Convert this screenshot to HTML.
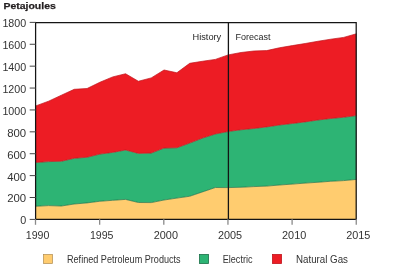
<!DOCTYPE html>
<html><head><meta charset="utf-8"><style>
html,body{margin:0;padding:0;background:#fff;width:400px;height:272px;overflow:hidden}
svg{display:block;will-change:transform}
.t{font-family:"Liberation Sans",sans-serif;font-size:10.2px;fill:#333333}
.t2{font-family:"Liberation Sans",sans-serif;font-size:9.9px;fill:#262626}
.b{font-family:"Liberation Sans",sans-serif;font-size:9.5px;font-weight:bold;fill:#231F20;stroke:#231F20;stroke-width:0.25px}
</style></head><body>
<svg width="400" height="272" viewBox="0 0 400 272">
<polygon points="35.75,105.90 48.58,101.20 61.41,95.20 74.24,89.30 87.07,88.50 99.90,82.25 112.73,76.90 125.56,73.75 138.39,81.25 151.22,77.90 164.05,70.00 176.88,72.75 189.71,63.30 202.54,61.25 215.37,59.40 228.20,54.90 241.03,52.50 253.86,51.00 266.69,50.60 279.52,47.75 292.35,45.60 305.18,43.50 318.01,41.25 330.84,39.20 343.67,37.40 356.50,33.75 356.50,115.60 343.67,117.25 330.84,118.50 318.01,120.00 305.18,121.90 292.35,123.50 279.52,125.00 266.69,126.90 253.86,128.50 241.03,129.75 228.20,131.50 215.37,134.00 202.54,138.10 189.71,143.10 176.88,147.75 164.05,148.10 151.22,153.10 138.39,153.40 125.56,150.00 112.73,152.40 99.90,154.10 87.07,157.25 74.24,158.30 61.41,161.25 48.58,161.60 35.75,162.50" fill="#ED1C24"/>
<polygon points="35.75,162.50 48.58,161.60 61.41,161.25 74.24,158.30 87.07,157.25 99.90,154.10 112.73,152.40 125.56,150.00 138.39,153.40 151.22,153.10 164.05,148.10 176.88,147.75 189.71,143.10 202.54,138.10 215.37,134.00 228.20,131.50 241.03,129.75 253.86,128.50 266.69,126.90 279.52,125.00 292.35,123.50 305.18,121.90 318.01,120.00 330.84,118.50 343.67,117.25 356.50,115.60 356.50,179.40 343.67,180.60 330.84,181.25 318.01,182.25 305.18,183.10 292.35,184.10 279.52,185.00 266.69,186.10 253.86,186.60 241.03,187.25 228.20,187.60 215.37,187.50 202.54,191.90 189.71,196.25 176.88,198.10 164.05,200.00 151.22,202.60 138.39,202.50 125.56,199.40 112.73,200.30 99.90,201.25 87.07,202.90 74.24,204.00 61.41,206.00 48.58,205.60 35.75,206.25" fill="#2DB474"/>
<polygon points="35.75,206.25 48.58,205.60 61.41,206.00 74.24,204.00 87.07,202.90 99.90,201.25 112.73,200.30 125.56,199.40 138.39,202.50 151.22,202.60 164.05,200.00 176.88,198.10 189.71,196.25 202.54,191.90 215.37,187.50 228.20,187.60 241.03,187.25 253.86,186.60 266.69,186.10 279.52,185.00 292.35,184.10 305.18,183.10 318.01,182.25 330.84,181.25 343.67,180.60 356.50,179.40 356.50,219.20 343.67,219.20 330.84,219.20 318.01,219.20 305.18,219.20 292.35,219.20 279.52,219.20 266.69,219.20 253.86,219.20 241.03,219.20 228.20,219.20 215.37,219.20 202.54,219.20 189.71,219.20 176.88,219.20 164.05,219.20 151.22,219.20 138.39,219.20 125.56,219.20 112.73,219.20 99.90,219.20 87.07,219.20 74.24,219.20 61.41,219.20 48.58,219.20 35.75,219.20" fill="#FFCC6F"/>
<polyline points="35.75,105.90 48.58,101.20 61.41,95.20 74.24,89.30 87.07,88.50 99.90,82.25 112.73,76.90 125.56,73.75 138.39,81.25 151.22,77.90 164.05,70.00 176.88,72.75 189.71,63.30 202.54,61.25 215.37,59.40 228.20,54.90 241.03,52.50 253.86,51.00 266.69,50.60 279.52,47.75 292.35,45.60 305.18,43.50 318.01,41.25 330.84,39.20 343.67,37.40 356.50,33.75" fill="none" stroke="#C0121A" stroke-width="0.7"/>
<polyline points="35.75,162.50 48.58,161.60 61.41,161.25 74.24,158.30 87.07,157.25 99.90,154.10 112.73,152.40 125.56,150.00 138.39,153.40 151.22,153.10 164.05,148.10 176.88,147.75 189.71,143.10 202.54,138.10 215.37,134.00 228.20,131.50 241.03,129.75 253.86,128.50 266.69,126.90 279.52,125.00 292.35,123.50 305.18,121.90 318.01,120.00 330.84,118.50 343.67,117.25 356.50,115.60" fill="none" stroke="#C0121A" stroke-width="0.7"/>
<polyline points="35.75,206.25 48.58,205.60 61.41,206.00 74.24,204.00 87.07,202.90 99.90,201.25 112.73,200.30 125.56,199.40 138.39,202.50 151.22,202.60 164.05,200.00 176.88,198.10 189.71,196.25 202.54,191.90 215.37,187.50 228.20,187.60 241.03,187.25 253.86,186.60 266.69,186.10 279.52,185.00 292.35,184.10 305.18,183.10 318.01,182.25 330.84,181.25 343.67,180.60 356.50,179.40" fill="none" stroke="#1A7048" stroke-width="0.7"/>
<path d="M35.6,22.6 H356.2 V219.25 H35.6 Z" fill="none" stroke="#141414" stroke-width="1.25"/>
<line x1="228.4" y1="22.6" x2="228.4" y2="219.2" stroke="#141414" stroke-width="1.3"/>
<line x1="29.7" y1="219.40" x2="35.8" y2="219.40" stroke="#444" stroke-width="1"/>
<text x="26.2" y="224.30" text-anchor="end" class="t" textLength="6" lengthAdjust="spacingAndGlyphs">0</text>
<line x1="29.7" y1="197.51" x2="35.8" y2="197.51" stroke="#444" stroke-width="1"/>
<text x="26.2" y="202.41" text-anchor="end" class="t" textLength="19" lengthAdjust="spacingAndGlyphs">200</text>
<line x1="29.7" y1="175.62" x2="35.8" y2="175.62" stroke="#444" stroke-width="1"/>
<text x="26.2" y="180.52" text-anchor="end" class="t" textLength="19" lengthAdjust="spacingAndGlyphs">400</text>
<line x1="29.7" y1="153.73" x2="35.8" y2="153.73" stroke="#444" stroke-width="1"/>
<text x="26.2" y="158.63" text-anchor="end" class="t" textLength="19" lengthAdjust="spacingAndGlyphs">600</text>
<line x1="29.7" y1="131.84" x2="35.8" y2="131.84" stroke="#444" stroke-width="1"/>
<text x="26.2" y="136.74" text-anchor="end" class="t" textLength="19" lengthAdjust="spacingAndGlyphs">800</text>
<line x1="29.7" y1="109.95" x2="35.8" y2="109.95" stroke="#444" stroke-width="1"/>
<text x="26.2" y="114.85" text-anchor="end" class="t" textLength="23.8" lengthAdjust="spacingAndGlyphs">1000</text>
<line x1="29.7" y1="88.06" x2="35.8" y2="88.06" stroke="#444" stroke-width="1"/>
<text x="26.2" y="92.96" text-anchor="end" class="t" textLength="23.8" lengthAdjust="spacingAndGlyphs">1200</text>
<line x1="29.7" y1="66.17" x2="35.8" y2="66.17" stroke="#444" stroke-width="1"/>
<text x="26.2" y="71.07" text-anchor="end" class="t" textLength="23.8" lengthAdjust="spacingAndGlyphs">1400</text>
<line x1="29.7" y1="44.28" x2="35.8" y2="44.28" stroke="#444" stroke-width="1"/>
<text x="26.2" y="49.18" text-anchor="end" class="t" textLength="23.8" lengthAdjust="spacingAndGlyphs">1600</text>
<line x1="29.7" y1="22.39" x2="35.8" y2="22.39" stroke="#444" stroke-width="1"/>
<text x="26.2" y="27.29" text-anchor="end" class="t" textLength="23.8" lengthAdjust="spacingAndGlyphs">1800</text>
<line x1="35.50" y1="219.2" x2="35.50" y2="224.8" stroke="#8a8a8a" stroke-width="1.3"/>
<text x="37.55" y="239.3" text-anchor="middle" class="t" textLength="23.6" lengthAdjust="spacingAndGlyphs">1990</text>
<line x1="99.65" y1="219.2" x2="99.65" y2="224.8" stroke="#8a8a8a" stroke-width="1.3"/>
<text x="101.70" y="239.3" text-anchor="middle" class="t" textLength="23.6" lengthAdjust="spacingAndGlyphs">1995</text>
<line x1="163.80" y1="219.2" x2="163.80" y2="224.8" stroke="#8a8a8a" stroke-width="1.3"/>
<text x="165.85" y="239.3" text-anchor="middle" class="t" textLength="24.2" lengthAdjust="spacingAndGlyphs">2000</text>
<line x1="227.95" y1="219.2" x2="227.95" y2="224.8" stroke="#8a8a8a" stroke-width="1.3"/>
<text x="230.00" y="239.3" text-anchor="middle" class="t" textLength="24.2" lengthAdjust="spacingAndGlyphs">2005</text>
<line x1="292.10" y1="219.2" x2="292.10" y2="224.8" stroke="#8a8a8a" stroke-width="1.3"/>
<text x="294.15" y="239.3" text-anchor="middle" class="t" textLength="24.2" lengthAdjust="spacingAndGlyphs">2010</text>
<line x1="356.25" y1="219.2" x2="356.25" y2="224.8" stroke="#8a8a8a" stroke-width="1.3"/>
<text x="358.30" y="239.3" text-anchor="middle" class="t" textLength="24.2" lengthAdjust="spacingAndGlyphs">2015</text>
<text x="192.5" y="40.1" class="t2" textLength="28.75" lengthAdjust="spacingAndGlyphs">History</text>
<text x="235.6" y="40.1" class="t2" textLength="35" lengthAdjust="spacingAndGlyphs">Forecast</text>
<text x="3.5" y="9.4" class="b" textLength="52.3" lengthAdjust="spacingAndGlyphs">Petajoules</text>
<rect x="43.5" y="254.5" width="9" height="9" fill="#FFCC6F" stroke="#B08C50" stroke-width="0.7"/>
<rect x="199.5" y="254.5" width="9" height="9" fill="#2DB474" stroke="#1A7048" stroke-width="0.8"/>
<rect x="272.5" y="254.5" width="9" height="9" fill="#ED1C24" stroke="#C0121A" stroke-width="0.8"/>
<text x="67" y="263.2" class="t" textLength="113.6" lengthAdjust="spacingAndGlyphs">Refined Petroleum Products</text>
<text x="222.75" y="263.2" class="t" textLength="29.75" lengthAdjust="spacingAndGlyphs">Electric</text>
<text x="296" y="263.2" class="t" textLength="52" lengthAdjust="spacingAndGlyphs">Natural Gas</text>
</svg>
</body></html>
